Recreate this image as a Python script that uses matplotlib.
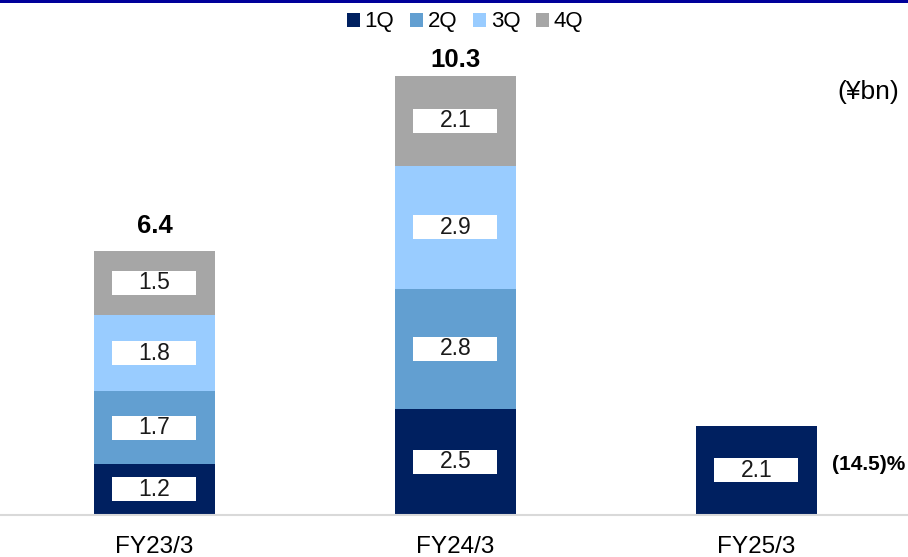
import matplotlib
matplotlib.use("Agg")
import matplotlib.pyplot as plt
from matplotlib.patches import Rectangle, Patch
import numpy as np

plt.rcParams['font.family'] = ['Liberation Sans', 'DejaVu Sans']

# Quarterly values (¥bn)
categories = ["FY23/3", "FY24/3", "FY25/3"]
quarters = ["1Q", "2Q", "3Q", "4Q"]
q1 = [1.2, 2.5, 2.1]
q2 = [1.7, 2.8, None]
q3 = [1.8, 2.9, None]
q4 = [1.5, 2.1, None]
totals = [6.4, 10.3, None]
total_labels = ["6.4", "10.3", None]
yoy_label = "(14.5)%"
colors = ["#002060", "#629fd1", "#99ccff", "#a6a6a6"]

W, H = 908, 557
fig = plt.figure(figsize=(W / 100, H / 100), dpi=100)
base_px = 515
px_per_unit = 42.6
ax = fig.add_axes([0, (H - base_px) / H, 1, base_px / H])
ax.set_ylim(0, base_px / px_per_unit)
spacing = 301
ax.set_xlim(-154.5 / spacing, (W - 154.5) / spacing)

x = np.arange(len(categories))
bar_w = 121 / spacing
box_w = 84 / spacing
box_h = 24 / px_per_unit

series = [q1, q2, q3, q4]
bottoms = np.zeros(len(categories))
for vals, col in zip(series, colors):
    v = np.array([np.nan if a is None else a for a in vals])
    mask = ~np.isnan(v)
    ax.bar(x[mask], v[mask], bar_w, bottom=bottoms[mask], color=col,
           edgecolor="none", zorder=2)
    for xi, vi, bi in zip(x[mask], v[mask], bottoms[mask]):
        mid = bi + vi / 2
        ax.add_patch(Rectangle((xi - box_w / 2, mid - box_h / 2), box_w, box_h,
                               facecolor="white", edgecolor="none", zorder=3))
        ax.text(xi, mid, f"{vi:.1f}", ha="center", va="center", fontsize=16.5,
                color="#1a1a1a", zorder=4)
    bottoms[mask] += v[mask]

for xi, t, lab in zip(x, totals, total_labels):
    if t is not None:
        ax.annotate(lab, (xi, t), xytext=(0, 3), textcoords="offset points",
                    ha="center", va="bottom", fontsize=18.5, fontweight="bold",
                    color="black")

ax.text((832 - 154.5) / spacing, (base_px - 465) / px_per_unit, yoy_label,
        ha="left", va="center", fontsize=15, fontweight="bold", color="black")

fig.text(899 / W, 1 - 92 / H, "(¥bn)", ha="right", va="center", fontsize=19)

for s in ["top", "right", "left"]:
    ax.spines[s].set_visible(False)
ax.spines["bottom"].set_color("#d9d9d9")
ax.spines["bottom"].set_linewidth(1.5)
ax.set_yticks([])
ax.set_xticks(x)
ax.set_xticklabels(categories, fontsize=17.5)
ax.tick_params(axis="x", length=0, pad=15)

handles = [Patch(facecolor=c, edgecolor="none") for c in colors]
fig.legend(handles, quarters, loc="center", bbox_to_anchor=(465 / W, 1 - 22 / H),
           ncol=4, frameon=False, fontsize=16, handlelength=0.6,
           handleheight=0.6, handletextpad=0.2, columnspacing=0.7,
           borderaxespad=0)

# Top border band
fig.add_artist(Rectangle((0, 1 - 3 / H), 1, 3 / H, transform=fig.transFigure,
                         facecolor="#00009a", edgecolor="none"))

fig.savefig("out.png", dpi=100)
